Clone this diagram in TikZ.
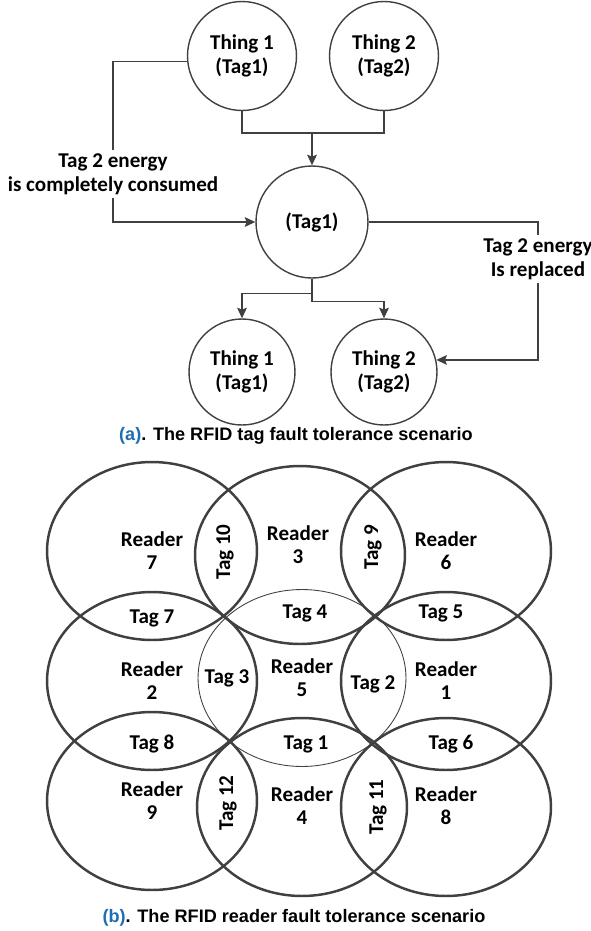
\documentclass[tikz,border=0pt]{standalone}
\usepackage{fontspec}
\setmainfont{Carlito}
\newfontfamily\capfont{Liberation Sans}
\usetikzlibrary{arrows.meta,positioning,calc}
\definecolor{linegray}{HTML}{404040}
\definecolor{capblue}{HTML}{1F6DB3}

\begin{document}
\begin{tikzpicture}[x=0.02cm,y=-0.02cm,
  thing/.style={circle, draw=linegray, line width=0.8pt, minimum size=2.18cm, inner sep=0pt, align=center, font=\bfseries\fontsize{12}{13.5}\selectfont},
  link/.style={draw=linegray, line width=0.8pt},
  arrowlink/.style={link, -{Stealth[length=6pt,width=5.5pt,inset=1pt]}},
  lbl/.style={fill=white, inner sep=2pt, align=center, font=\bfseries\fontsize{12}{13.5}\selectfont},
  reader/.style={draw=linegray, line width=1.4pt},
  thinreader/.style={draw=linegray, line width=0.5pt},
  txt/.style={align=center, font=\bfseries\fontsize{12}{13}\selectfont},
  captext/.style={font=\capfont\bfseries\fontsize{10.3}{12}\selectfont}]
\useasboundingbox (0,0) rectangle (591,931);

  % (a) tag fault tolerance
  \node[thing] (top1) at (242,56) {Thing 1\\(Tag1)};
  \node[thing] (top2) at (384,56) {Thing 2\\(Tag2)};
  \node[thing, minimum size=2.24cm] (mid) at (312,222) {(Tag1)};
  \node[thing, minimum size=2.12cm] (bot1) at (242,372) {Thing 1\\(Tag1)};
  \node[thing, minimum size=2.12cm] (bot2) at (384,372) {Thing 2\\(Tag2)};
  \coordinate (join) at (312,133);
  \draw[link] (top1.south) |- (top2.south |- join) -- (top2.south);
  \draw[arrowlink] (join) -- (mid.north);
  % energy labels
  \node[lbl] (consumed) at (113,174) {Tag 2 energy\\is completely consumed};
  \node[lbl] (replaced) at (538,259) {Tag 2 energy\\Is replaced};
  \draw[link] (top1.186) -| (consumed.north);
  \draw[arrowlink] (consumed.south) |- (mid.west);
  \draw[link] (mid.east) -| (replaced.north);
  \draw[arrowlink] (replaced.south) |- (bot2.13);
  \draw[arrowlink] (mid.south) -- ++(0,15) -| (bot1.north);
  \draw[arrowlink] (mid.south) -- ++(0,23) -| (bot2.north);
  \node[captext] (capa) at (296,436) {\textcolor{capblue}{(a)}. The RFID tag fault tolerance scenario};

  % (b) reader fault tolerance
  \draw[thinreader] (302,678) ellipse [x radius=2.08cm, y radius=1.77cm];
  \foreach \cx/\cy in {152/551, 300/555, 446/551, 152/681, 446/681, 152/801, 302/807, 446/807}
    \draw[reader] (\cx,\cy) ellipse [x radius=2.1cm, y radius=1.78cm];
  \node[txt] (rd7) at (152,551) {Reader\\7};
  \node[txt] (rd3) at (298,545) {Reader\\3};
  \node[txt] (rd6) at (446,551) {Reader\\6};
  \node[txt] (rd2) at (152,681) {Reader\\2};
  \node[txt] (rd5) at (302,678) {Reader\\5};
  \node[txt] (rd1) at (446,681) {Reader\\1};
  \node[txt] (rd9) at (152,801) {Reader\\9};
  \node[txt] (rd4) at (302,806) {Reader\\4};
  \node[txt] (rd8) at (446,806) {Reader\\8};
  \node[txt, rotate=90] (tg10) at (225,552) {Tag 10};
  \node[txt, rotate=90] (tg9) at (373,547) {Tag 9};
  \node[txt] (tg7) at (152,618) {Tag 7};
  \node[txt] (tg4) at (305,613) {Tag 4};
  \node[txt] (tg5) at (441,613) {Tag 5};
  \node[txt] (tg3) at (227,678) {Tag 3};
  \node[txt] (tg2) at (373,684) {Tag 2};
  \node[txt] (tg8) at (152,744) {Tag 8};
  \node[txt] (tg1) at (306,744) {Tag 1};
  \node[txt] (tg6) at (451,744) {Tag 6};
  \node[txt, rotate=90] (tg12) at (228,803) {Tag 12};
  \node[txt, rotate=90] (tg11) at (378,807) {Tag 11};
  \node[captext] (capb) at (294,918) {\textcolor{capblue}{(b)}. The RFID reader fault tolerance scenario};
\end{tikzpicture}
\end{document}
